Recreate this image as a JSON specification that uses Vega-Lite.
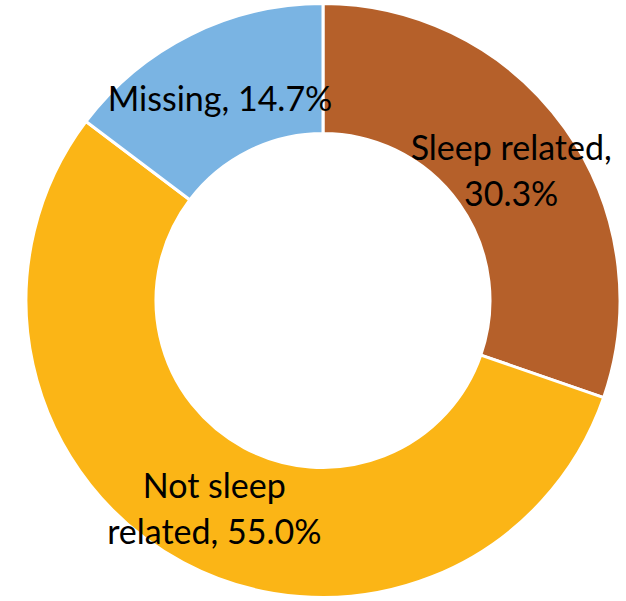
{
  "$schema": "https://vega.github.io/schema/vega-lite/v6.json",
  "width": 606,
  "height": 601,
  "autosize": {"type": "none"},
  "padding": {"left": 20, "right": 0, "top": 0, "bottom": 0},
  "background": "white",
  "view": {"stroke": null},
  "data": {
    "values": [
      {"category": "Sleep related", "value": 30.3, "idx": 1, "label1": "", "label2": "Sleep related,|30.3%"},
      {"category": "Not sleep related", "value": 55.0, "idx": 2, "label1": "", "label2": "Not sleep|related, 55.0%"},
      {"category": "Missing", "value": 14.7, "idx": 3, "label1": "Missing, 14.7%", "label2": ""}
    ]
  },
  "encoding": {
    "theta": {"field": "value", "type": "quantitative", "stack": true},
    "order": {"field": "idx", "type": "quantitative"}
  },
  "layer": [
    {
      "mark": {"type": "arc", "outerRadius": 297, "innerRadius": 167, "stroke": "white", "strokeWidth": 3},
      "encoding": {
        "color": {
          "field": "category",
          "type": "nominal",
          "scale": {"domain": ["Sleep related", "Not sleep related", "Missing"], "range": ["#B5602A", "#FBB516", "#7AB4E3"]},
          "legend": null
        }
      }
    },
    {
      "mark": {"type": "text", "radius": 231, "font": "Lato", "fontSize": 34, "color": "black", "lineBreak": "|", "lineHeight": 46, "align": "center", "baseline": "middle", "dy": -16},
      "encoding": {
        "text": {"field": "label2", "type": "nominal"}
      }
    },
    {
      "mark": {"type": "text", "radius": 231, "font": "Lato", "fontSize": 34, "color": "black", "align": "center", "baseline": "middle", "dy": 7},
      "encoding": {
        "text": {"field": "label1", "type": "nominal"}
      }
    }
  ]
}
